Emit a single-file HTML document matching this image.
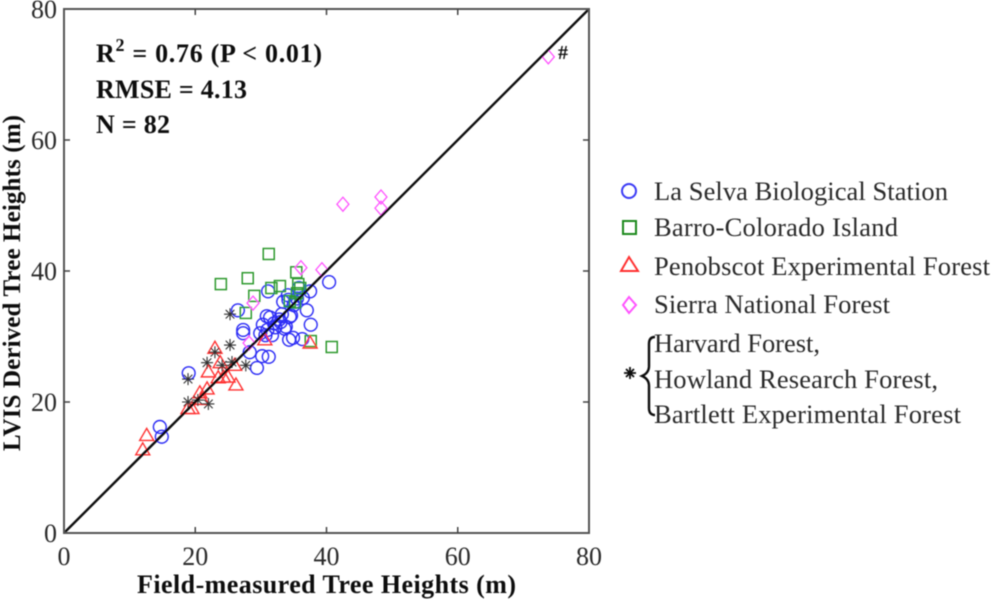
<!DOCTYPE html>
<html>
<head>
<meta charset="utf-8">
<title>LVIS Derived vs Field-measured Tree Heights</title>
<style>
html,body{margin:0;padding:0;background:#fff;}
svg{display:block;}
text{font-family:"Liberation Serif",serif;fill:#2a2a2a;}
.b{font-weight:bold;fill:#111;}
</style>
</head>
<body>
<svg id="chart" width="1000" height="600" viewBox="0 0 1000 600" xmlns="http://www.w3.org/2000/svg">
<defs><filter id="soft" x="-5%" y="-5%" width="110%" height="110%"><feGaussianBlur stdDeviation="0.6"/></filter></defs>
<g id="root" filter="url(#soft)">
<g id="marks"></g>
<rect x="64" y="9" width="525" height="524" fill="none" stroke="#555" stroke-width="2"/>
<g id="ticks"></g>
<text class="b" x="96" y="62" font-size="26" letter-spacing="0.7">R<tspan dy="-11" font-size="18">2</tspan><tspan dy="11"> = 0.76 (P &lt; 0.01)</tspan></text>
<text class="b" x="96" y="98" font-size="26" textLength="151">RMSE = 4.13</text>
<text class="b" x="96" y="133" font-size="26" textLength="74">N = 82</text>
<text x="558" y="59" font-size="20" style="fill:#111;font-weight:bold">#</text>
<text class="b" x="137" y="593" font-size="26" textLength="379">Field-measured Tree Heights (m)</text>
<text class="b" transform="translate(20,451) rotate(-90)" font-size="25" textLength="336">LVIS Derived Tree Heights (m)</text>
<g>
<circle cx="629" cy="191" r="7" fill="none" stroke="#3a3af5" stroke-width="2"/>
<text x="654" y="200" font-size="26.5" textLength="294">La Selva Biological Station</text>
<rect x="623" y="221" width="13" height="13" fill="none" stroke="#1f8a1f" stroke-width="2"/>
<text x="654" y="236" font-size="26.5" textLength="244">Barro-Colorado Island</text>
<path d="M629 257L638 271H621Z" fill="none" stroke="#f33" stroke-width="2"/>
<text x="654" y="275" font-size="26.5" textLength="336">Penobscot Experimental Forest</text>
<path d="M629 297L636 305L629 313L623 305Z" fill="none" stroke="#f5f" stroke-width="2"/>
<text x="654" y="313" font-size="26.5" textLength="236">Sierra National Forest</text>
<text x="654" y="352" font-size="26.5" textLength="166">Harvard Forest,</text>
<text x="654" y="388" font-size="26.5" textLength="284">Howland Research Forest,</text>
<text x="654" y="423" font-size="26.5" textLength="307">Bartlett Experimental Forest</text>
<path d="M624 373H636M630 367V379M626 369L634 377M634 369L626 377" stroke="#111" stroke-width="1.8" fill="none"/>
<path d="M655 337Q649 337 649 344V366Q649 373 642 376Q649 379 649 386V408Q649 415 655 415" stroke="#111" stroke-width="2.4" fill="none"/>
</g>
</g>
</svg>
<script>
const tickValues = [0, 20, 40, 60, 80];
const laSelvaX = [40.4,31.1,37.5,35.8,34.1,33.4,35.2,36.4,37,37.6,30.9,34.3,34.9,36.3,31.2,30.2,29.4,28.3,27.3,27.3,29.9,26.5,19,14.6,14.9,32,32.8,33.8,34.4,30.3,31.4,32.2,33.6,34.6,31.7,30.7,33,35.5,34.2,35,31,33.2];
const laSelvaY = [38.3,36.9,36.9,37.4,36.3,35.3,35.3,35.9,34,31.8,33.1,29.5,29.8,29.6,26.9,27,25.2,27.6,31,30.5,30.5,34,24.4,16.2,14.7,32,32.6,31.5,33,31.8,32.9,31.4,31.2,33.2,30.2,30.2,32.2,35.8,35.6,34.8,31,33.4];
const barroX = [23.9,28,31.2,31.6,32.9,35.4,35.7,36,35.5,29,27.7,37.6,40.8,34.4,35.2];
const barroY = [38,38.9,42.6,37.4,37.7,39.8,38,37.4,36.6,36.2,33.6,29.3,28.4,35.4,35.2];
const penobscotX = [12.6,12,19.5,18.9,20.7,21.8,21,22,23,23.8,23.5,25,26.2,26,24.3,30.6,37.5];
const penobscotY = [14.9,12.7,19,19,21.4,22,20.4,24.6,28.2,26,23.7,23.8,22.6,25.6,23.8,29.5,29];
const sierraX = [73.8,42.5,48.3,48.3,39.3,36.1,28.8,28.2];
const sierraY = [72.7,50.2,51.3,49.6,40.2,40.5,35.1,29];
const starX = [18.9,18.9,20.4,22,21.8,23,24.1,25.3,25.6,27.7,25.3];
const starY = [23.5,20,20.3,19.7,26,27.6,25.6,28.7,26.1,25.6,33.4];
const identityLine = [0, 80];

const NS = 'http://www.w3.org/2000/svg';
function sx(v){ return 64 + v * 525 / 80; }
function sy(v){ return 533 - v * 524 / 80; }
const marks = document.getElementById('marks');
const ticks = document.getElementById('ticks');

function draw(parent, tag){
  const el = document.createElementNS(NS, tag);
  parent.appendChild(el);
  return el;
}

laSelvaX.forEach(function(v, i){
  const el = draw(marks, 'circle');
  
  
  el.setAttribute('cx', sx(v));
  el.setAttribute('cy', sy(laSelvaY[i]));
  el.setAttribute('r', 6.4);
  el.setAttribute('fill', 'none');
  el.setAttribute('stroke', '#2a2af5');
  el.setAttribute('stroke-width', 1.4);
});
barroX.forEach(function(v, i){
  const el = draw(marks, 'rect');
  
  
  el.setAttribute('x', sx(v) - 5.5);
  el.setAttribute('y', sy(barroY[i]) - 5.5);
  el.setAttribute('width', 11);
  el.setAttribute('height', 11);
  el.setAttribute('fill', 'none');
  el.setAttribute('stroke', '#2f9a2f');
  el.setAttribute('stroke-width', 1.5);
});
penobscotX.forEach(function(v, i){
  const el = draw(marks, 'path');
  const x = sx(v);
  const y = sy(penobscotY[i]);
  
  
  el.setAttribute('d', 'M' + x + ' ' + (y - 7) + 'L' + (x + 7) + ' ' + (y + 5) + 'H' + (x - 7) + 'Z');
  el.setAttribute('fill', 'none');
  el.setAttribute('stroke', '#f33');
  el.setAttribute('stroke-width', 1.4);
});
sierraX.forEach(function(v, i){
  const el = draw(marks, 'path');
  const x = sx(v);
  const y = sy(sierraY[i]);
  
  
  el.setAttribute('d', 'M' + x + ' ' + (y - 7) + 'L' + (x + 6) + ' ' + y + 'L' + x + ' ' + (y + 7) + 'L' + (x - 6) + ' ' + y + 'Z');
  el.setAttribute('fill', 'none');
  el.setAttribute('stroke', '#f5f');
  el.setAttribute('stroke-width', 1.3);
});
starX.forEach(function(v, i){
  const el = draw(marks, 'path');
  const x = sx(v);
  const y = sy(starY[i]);
  
  
  el.setAttribute('d', 'M' + (x - 6) + ' ' + y + 'H' + (x + 6) + 'M' + x + ' ' + (y - 6) + 'V' + (y + 6) + 'M' + (x - 4.3) + ' ' + (y - 4.3) + 'L' + (x + 4.3) + ' ' + (y + 4.3) + 'M' + (x + 4.3) + ' ' + (y - 4.3) + 'L' + (x - 4.3) + ' ' + (y + 4.3));
  el.setAttribute('fill', 'none');
  el.setAttribute('stroke', '#333');
  el.setAttribute('stroke-width', 1.1);
});

const line = draw(marks, 'line');


line.setAttribute('x1', sx(identityLine[0]));
line.setAttribute('y1', sy(identityLine[0]));
line.setAttribute('x2', sx(identityLine[1]));
line.setAttribute('y2', sy(identityLine[1]));
line.setAttribute('stroke', '#111');
line.setAttribute('stroke-width', 2.4);

tickValues.forEach(function(v){
  const xLab = draw(ticks, 'text');
  
  
  xLab.setAttribute('x', sx(v));
  xLab.setAttribute('y', 565);
  xLab.setAttribute('font-size', 26);
  xLab.setAttribute('text-anchor', 'middle');
  xLab.textContent = v;
  const yLab = draw(ticks, 'text');
  
  
  yLab.setAttribute('x', 57);
  yLab.setAttribute('y', sy(v) + 9);
  yLab.setAttribute('font-size', 26);
  yLab.setAttribute('text-anchor', 'end');
  yLab.textContent = v;
  if (v === 0 || v === 80) return;
  const t = draw(ticks, 'path');
  
  
  t.setAttribute('d', 'M' + sx(v) + ' 533v-6M' + sx(v) + ' 9v6M64 ' + sy(v) + 'h6M589 ' + sy(v) + 'h-6');
  t.setAttribute('stroke', '#444');
  t.setAttribute('stroke-width', 1.5);
  t.setAttribute('fill', 'none');
});
</script>
</body>
</html>
